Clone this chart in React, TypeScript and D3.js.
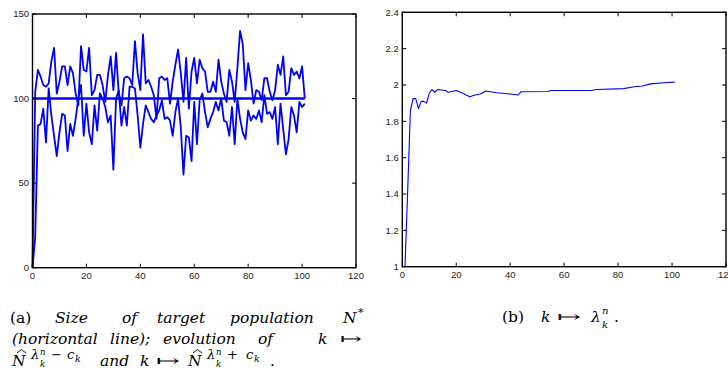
import React from "react";
import * as d3 from "d3";

// ---------- Data ----------
const kSteps: number[] = d3.range(0, 102);
const upperEstimate: number[] = [
  0, 104, 117, 113, 108, 107, 109, 122, 130, 103,
  110, 119, 119, 108, 119, 115, 103, 96, 131, 117,
  116, 130, 102, 105, 114, 114, 108, 98, 114, 125,
  105, 127, 103, 96, 112, 113, 112, 108, 134, 115,
  105, 138, 109, 111, 107, 102, 88, 112, 113, 111,
  112, 97, 110, 120, 129, 115, 98, 124, 94, 116,
  124, 109, 123, 118, 116, 104, 104, 110, 104, 123,
  110, 103, 98, 117, 110, 98, 118, 140, 132, 105,
  121, 111, 97, 105, 104, 99, 112, 112, 104, 99,
  105, 120, 114, 125, 102, 104, 118, 114, 116, 112,
  119, 100,
];
const lowerEstimate: number[] = [
  0, 18, 84, 85, 94, 74, 106, 90, 78, 66,
  80, 91, 90, 69, 85, 78, 88, 100, 108, 78,
  97, 80, 73, 96, 81, 103, 100, 95, 86, 90,
  58, 100, 105, 84, 95, 84, 107, 107, 106, 90,
  71, 85, 96, 92, 88, 86, 90, 93, 99, 88,
  89, 87, 78, 92, 100, 83, 55, 78, 77, 63,
  98, 73, 99, 103, 92, 83, 88, 92, 98, 93,
  100, 87, 86, 78, 95, 73, 100, 88, 80, 76,
  93, 87, 90, 88, 93, 86, 102, 91, 92, 88,
  95, 73, 97, 82, 67, 76, 95, 90, 80, 98,
  95, 97,
];
const targetSize = 100;
const targetK: number[] = [0, 101];

const lambdaK: number[] = [1, 2, 3, 4, 5, 6, 7, 8, 9, 10, 11, 12, 13, 16, 17, 20, 22, 25, 27, 29, 31, 35, 40, 43, 44, 54, 55, 70, 72, 82, 86, 89, 92, 97, 101];
const lambdaV: number[] = [1.0, 1.42, 1.86, 1.925, 1.925, 1.87, 1.91, 1.91, 1.9, 1.955, 1.975, 1.96, 1.975, 1.97, 1.96, 1.97, 1.957, 1.935, 1.945, 1.95, 1.967, 1.957, 1.95, 1.945, 1.963, 1.964, 1.97, 1.97, 1.975, 1.98, 1.99, 1.994, 2.006, 2.012, 2.016];

const xTicks: number[] = [0, 20, 40, 60, 80, 100, 120];
const leftYTicks: number[] = [0, 50, 100, 150];
const rightYTicks: number[] = [1, 1.2, 1.4, 1.6, 1.8, 2, 2.2, 2.4];

const BLUE = "#0000ff";
const tickFont = "'Liberation Sans', Arial, sans-serif";
const serif = "'DejaVu Serif', serif";

type Sc = d3.ScaleLinear<number, number>;

function Frame({ x, y, yTicks, fmt }: { x: Sc; y: Sc; yTicks: number[]; fmt: (v: number) => string }) {
  const [x0, x1] = x.range();
  const [y0, y1] = y.range();
  const tl = 4;
  return (
    <g>
      <rect x={x0} y={y1} width={x1 - x0} height={y0 - y1} fill="none" stroke="#000" strokeWidth={1.4} />
      {xTicks.map((t) => (
        <g key={"x" + t}>
          <line x1={x(t)} x2={x(t)} y1={y0} y2={y0 - tl} stroke="#000" strokeWidth={1} />
          <line x1={x(t)} x2={x(t)} y1={y1} y2={y1 + tl} stroke="#000" strokeWidth={1} />
          <text x={x(t)} y={y0 + 11} textAnchor="middle" fontSize={9.5} fontFamily={tickFont} fill="#222">
            {t}
          </text>
        </g>
      ))}
      {yTicks.map((t) => (
        <g key={"y" + t}>
          <line x1={x0} x2={x0 + tl} y1={y(t)} y2={y(t)} stroke="#000" strokeWidth={1} />
          <line x1={x1} x2={x1 - tl} y1={y(t)} y2={y(t)} stroke="#000" strokeWidth={1} />
          <text x={x0 - 3.5} y={y(t) + 3.3} textAnchor="end" fontSize={9.5} fontFamily={tickFont} fill="#222">
            {fmt(t)}
          </text>
        </g>
      ))}
    </g>
  );
}

function W({ x, y, s = 15.5, it = true, len, children }: { x: number; y: number; s?: number; it?: boolean; len?: number; children: React.ReactNode }) {
  return (
    <text
      x={x}
      y={y}
      fontSize={s}
      fontFamily={serif}
      fontStyle={it ? "italic" : "normal"}
      fill="#000"
      textLength={len}
      lengthAdjust={len ? "spacingAndGlyphs" : undefined}
    >
      {children}
    </text>
  );
}

function NHat({ x, y, sign, wide = 0 }: { x: number; y: number; sign: string; wide?: number }) {
  return (
    <g>
      <W x={x} y={y}>N</W>
      <path
        d={`M${x + 5},${y - 13} L${x + 9.5},${y - 16.5} L${x + 14},${y - 13}`}
        fill="none"
        stroke="#000"
        strokeWidth={0.9}
      />
      <W x={x + 19} y={y - 7} s={13}>λ</W>
      <W x={x + 28} y={y - 11} s={8.5}>n</W>
      <W x={x + 28} y={y + 1} s={8.5}>k</W>
      <W x={x + 39} y={y - 7} s={13} it={false}>{sign}</W>
      <W x={x + 55 + wide} y={y - 7} s={13}>c</W>
      <W x={x + 63 + wide} y={y - 4} s={9.5}>k</W>
    </g>
  );
}

export default function App() {
  const xl = d3.scaleLinear().domain([0, 120]).range([32.5, 356]);
  const yl = d3.scaleLinear().domain([0, 150]).range([267.7, 14]);
  const xr = d3.scaleLinear().domain([0, 120]).range([402.3, 726]);
  const yr = d3.scaleLinear().domain([1, 2.4]).range([266.7, 12.3]);

  const lineL = d3
    .line<number>()
    .x((_, i) => xl(kSteps[i]))
    .y((d) => yl(d));
  const lineT = d3
    .line<number>()
    .x((d) => xl(d))
    .y(() => yl(targetSize));
  const lineR = d3
    .line<number>()
    .x((_, i) => xr(lambdaK[i]))
    .y((d) => yr(d));

  return (
    <svg width={728} height={380} style={{ position: "absolute", left: 0, top: 0, background: "#fff" }}>
      <rect width={728} height={380} fill="#fff" />
      {/* Left panel */}
      <g>
        <path d={lineL(upperEstimate) || ""} fill="none" stroke={BLUE} strokeWidth={1.8} strokeLinejoin="round" />
        <path d={lineL(lowerEstimate) || ""} fill="none" stroke={BLUE} strokeWidth={1.8} strokeLinejoin="round" />
        <path d={lineT(targetK) || ""} fill="none" stroke={BLUE} strokeWidth={2.6} />
        <Frame x={xl} y={yl} yTicks={leftYTicks} fmt={(v) => String(v)} />
      </g>
      {/* Right panel */}
      <g>
        <path d={lineR(lambdaV) || ""} fill="none" stroke={BLUE} strokeWidth={1.1} strokeLinejoin="round" />
        <Frame x={xr} y={yr} yTicks={rightYTicks} fmt={(v) => d3.format("~g")(v)} />
      </g>
      {/* Caption (a) */}
      <W x={10} y={322.5} it={false}>(a)</W>
      <W x={55} y={322.5}>Size</W>
      <W x={122} y={322.5}>of</W>
      <W x={157} y={322.5}>target</W>
      <W x={230} y={322.5}>population</W>
      <W x={343} y={322.5}>N</W>
      <W x={357} y={314} s={11} it={false}>∗</W>
      <W x={12} y={344}>(horizontal</W>
      <W x={110} y={344}>line);</W>
      <W x={163} y={344}>evolution</W>
      <W x={258} y={344}>of</W>
      <W x={318} y={344}>k</W>
      <W x={340} y={344} it={false} len={22}>↦</W>
      <NHat x={12} y={366} sign="−" />
      <W x={100} y={366}>and</W>
      <W x={140} y={366}>k</W>
      <W x={156} y={366} it={false} len={24}>↦</W>
      <NHat x={188} y={366} sign="+" wide={3} />
      <W x={270} y={366} it={false}>.</W>
      {/* Caption (b) */}
      <W x={502} y={322} it={false}>(b)</W>
      <W x={541} y={322}>k</W>
      <W x={557} y={322} it={false} len={24}>↦</W>
      <W x={591} y={322}>λ</W>
      <W x={602} y={314} s={10}>n</W>
      <W x={602} y={328} s={10}>k</W>
      <W x={614} y={322} it={false}>.</W>
    </svg>
  );
}
